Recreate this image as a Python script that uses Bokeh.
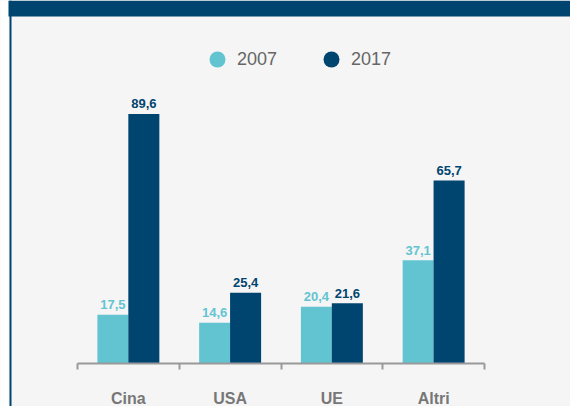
import numpy as np
from bokeh.plotting import figure
from bokeh.models import (Range1d, LinearAxis, FixedTicker, BoxAnnotation, Span,
                          Legend, LegendItem, ColumnDataSource)
from bokeh.embed import file_html
from bokeh.resources import INLINE
from bokeh.core.properties import value

# ---- data ----
categories = ["Cina", "USA", "UE", "Altri"]
series = ["2007", "2017"]
values_2007 = [17.5, 14.6, 20.4, 37.1]
values_2017 = [89.6, 25.4, 21.6, 65.7]

# ---- style ----
LIGHT = "#63c4d1"
NAVY = "#004470"
BG = "#f5f5f5"
FONT = value("Liberation Sans")

W, H = 570, 406
AX_L, AX_R, AX_Y = 77, 484, 363   # axis extent / baseline in figure pixels
PPY = 2.785                        # pixels per unit
n = len(categories)
ppx = (AX_R - AX_L) / n

x_range = Range1d(-AX_L / ppx, n + (W - AX_R) / ppx)
y_range = Range1d(-(H - AX_Y) / PPY, AX_Y / PPY)

p = figure(width=W, height=H, x_range=x_range, y_range=y_range,
           output_backend="svg", toolbar_location=None,
           x_axis_location=None, y_axis_location=None, min_border=0,
           background_fill_color=BG, border_fill_color=BG, outline_line_color=None)
p.xgrid.visible = False
p.ygrid.visible = False

def fmt(v):
    return f"{v:.1f}".replace(".", ",")

centers = np.arange(n) + 0.5
offset = 0.152
bw = 0.305
src = ColumnDataSource(dict(
    cat=categories,
    x07=centers - offset, x17=centers + offset,
    v07=values_2007, v17=values_2017,
    l07=[fmt(v) for v in values_2007], l17=[fmt(v) for v in values_2017],
))

p.vbar(x="x07", top="v07", bottom=0, width=bw, source=src, fill_color=LIGHT, line_color=None)
p.vbar(x="x17", top="v17", bottom=0, width=bw, source=src, fill_color=NAVY, line_color=None)

p.text(x="x07", y="v07", text="l07", source=src, text_align="center",
       text_baseline="alphabetic", y_offset=-10, text_font=FONT,
       text_font_style="bold", text_font_size="13px", text_color=LIGHT)
p.text(x="x17", y="v17", text="l17", source=src, text_align="center",
       text_baseline="alphabetic", y_offset=-10, text_font=FONT,
       text_font_style="bold", text_font_size="13px", text_color=NAVY)

# category axis: boundary ticks (minor) and centered labels
xaxis = LinearAxis(
    fixed_location=0, bounds=(0, n),
    ticker=FixedTicker(ticks=[float(c) for c in centers], minor_ticks=list(range(n + 1))),
    major_label_overrides={float(c): cat for c, cat in zip(centers, categories)},
    major_tick_out=0, major_tick_in=0,
    minor_tick_out=6, minor_tick_in=0,
    minor_tick_line_color="#999999", minor_tick_line_width=2,
    axis_line_color="#999999", axis_line_width=2,
    major_label_standoff=20,
    major_label_text_font="Liberation Sans", major_label_text_font_style="bold",
    major_label_text_font_size="16px", major_label_text_color="#777777",
)
p.add_layout(xaxis, "below")

# legend with circle markers (proxy renderers drawn with zero size)
d07 = p.scatter(x="x07", y="v07", source=src, size=0, marker="circle",
                fill_color=LIGHT, line_color=None)
d17 = p.scatter(x="x17", y="v17", source=src, size=0, marker="circle",
                fill_color=NAVY, line_color=None)
legend = Legend(
    items=[LegendItem(label=series[0], renderers=[d07]),
           LegendItem(label=series[1], renderers=[d17])],
    orientation="horizontal", location=(197, 327),
    glyph_width=40, glyph_height=40, label_standoff=0, spacing=34,
    padding=0, margin=0, border_line_color=None, background_fill_alpha=0,
    label_text_font="Liberation Sans", label_text_font_size="18px",
    label_text_color="#666666",
)
p.add_layout(legend, "center")

# decorative frame: white left strip, top navy band and left navy rule
p.add_layout(BoxAnnotation(right=x_range.start + 8 / ppx, fill_color="white",
                           fill_alpha=1, line_color=None))
p.add_layout(BoxAnnotation(bottom=y_range.end - 16 / PPY, left=x_range.start + 8 / ppx,
                           fill_color=NAVY, fill_alpha=1, line_color=None))
p.add_layout(Span(location=x_range.start + 10 / ppx, dimension="height",
                  line_color=NAVY, line_width=2))

open("out.html", "w").write(file_html(p, INLINE))
